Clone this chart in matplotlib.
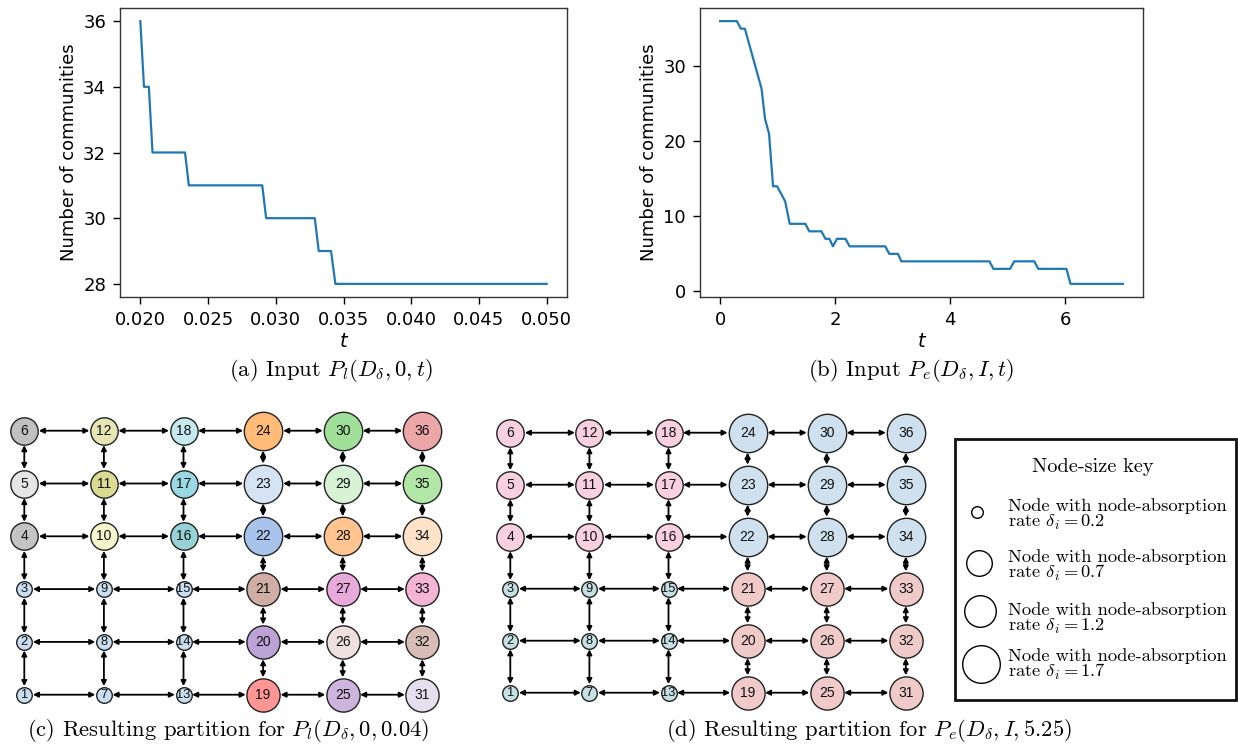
import matplotlib
matplotlib.use("Agg")
import matplotlib.pyplot as plt
from matplotlib.patches import Rectangle

# ---------------- data ----------------
t_a = [0.0200, 0.02027, 0.02063, 0.0209, 0.0233, 0.02358, 0.0290, 0.02929,
       0.03288, 0.03317, 0.03408, 0.0344, 0.0500]
n_a = [36, 34, 34, 32, 32, 31, 31, 30, 30, 29, 29, 28, 28]

t_b = [0.0, 0.29, 0.36, 0.43, 0.72, 0.78, 0.85, 0.92, 0.99, 1.13, 1.21, 1.48,
       1.55, 1.76, 1.83, 1.90, 1.96, 2.03, 2.18, 2.25, 2.87, 2.94, 3.09, 3.15,
       4.68, 4.75, 5.04, 5.11, 5.46, 5.53, 6.02, 6.09, 7.0]
n_b = [36, 36, 35, 35, 27, 23, 21, 14, 14, 12, 9, 9,
       8, 8, 7, 7, 6, 7, 7, 6, 6, 5, 5, 4,
       4, 3, 3, 4, 4, 3, 3, 1, 1]

nodes = list(range(1, 37))
# absorption rate per node (node n -> column (n-1)//6, row (n-1)%6)
delta = [0.2, 0.2, 0.2, 0.7, 0.7, 0.7,
         0.2, 0.2, 0.2, 0.7, 0.7, 0.7,
         0.2, 0.2, 0.2, 0.7, 0.7, 0.7,
         1.2, 1.2, 1.2, 1.7, 1.7, 1.7,
         1.2, 1.2, 1.2, 1.7, 1.7, 1.7,
         1.2, 1.2, 1.2, 1.7, 1.7, 1.7]

colors_c = ['#c9def0', '#c9def0', '#c9def0', '#c4c4c4', '#e5e5e5', '#c0c0c0',
            '#c9def0', '#c9def0', '#c9def0', '#f6f6cc', '#dada92', '#e5e6b2',
            '#c9def0', '#c9def0', '#c9def0', '#96d3d8', '#9ad8e3', '#c5e9ef',
            '#ff9594', '#bca3d6', '#d0aea6', '#a9c4ec', '#d6e3f3', '#ffbb78',
            '#ccb4dd', '#ede0de', '#e8aadb', '#ffc490', '#d8f2d6', '#a0e09a',
            '#e6e0ee', '#d8bdb6', '#f4b4d3', '#ffe3c8', '#b2e6a6', '#eca6a7']

community_d = [0, 0, 0, 1, 1, 1,
               0, 0, 0, 1, 1, 1,
               0, 0, 0, 1, 1, 1,
               2, 2, 2, 3, 3, 3,
               2, 2, 2, 3, 3, 3,
               2, 2, 2, 3, 3, 3]
palette_d = ['#c6e0e4', '#f9d0e0', '#f0c9c9', '#cfe1ee']

key_deltas = [0.2, 0.7, 1.2, 1.7]

# ---------------- styles ----------------
W, H = 1238, 747
DPI = 100
PT = 72.0 / DPI  # points per pixel
radius_px = {0.2: 7.8, 0.7: 13.7, 1.2: 16.6, 1.7: 19.2}
key_radius_px = {0.2: 5.8, 0.7: 12.8, 1.2: 15.8, 1.7: 18.8}

plt.rcParams['mathtext.fontset'] = 'cm'
fig = plt.figure(figsize=(W / DPI, H / DPI), dpi=DPI)


def px_axes(x0, y0, x1, y1):
    return fig.add_axes([x0 / W, 1 - y1 / H, (x1 - x0) / W, (y1 - y0) / H])


LINE = '#1f77b4'
TICKFS = 13


def style_line_axes(ax):
    ax.tick_params(labelsize=TICKFS, length=5, width=1, pad=5)
    for s in ax.spines.values():
        s.set_linewidth(1.0)
        s.set_color('#333333')
    ax.set_ylabel('Number of communities', fontsize=TICKFS)
    ax.set_xlabel('t', fontsize=TICKFS + 1, style='italic', family='DejaVu Sans',
                  labelpad=2)


ax_a = px_axes(120, 8, 567, 297)
ax_a.plot(t_a, n_a, color=LINE, lw=1.6)
ax_a.set_yticks([28, 30, 32, 34, 36])
ax_a.set_xticks([0.020, 0.025, 0.030, 0.035, 0.040, 0.045, 0.050])
style_line_axes(ax_a)

ax_b = px_axes(700, 8, 1143, 297)
ax_b.plot(t_b, n_b, color=LINE, lw=1.6)
ax_b.set_yticks([0, 10, 20, 30])
ax_b.set_xticks([0, 2, 4, 6])
style_line_axes(ax_b)


# ---------------- networks ----------------
def draw_network(box, col0, colstep, row0, rowstep, node_colors):
    x0, y0, x1, y1 = box
    ax = px_axes(x0, y0, x1, y1)
    ax.set_xlim((x0 - col0) / colstep, (x1 - col0) / colstep)
    ax.set_ylim((row0 - y1) / rowstep, (row0 - y0) / rowstep)
    ax.axis('off')
    pos = {n: ((n - 1) // 6, (n - 1) % 6) for n in nodes}
    rad = {n: radius_px[delta[n - 1]] * PT for n in nodes}
    # edges
    for n in nodes:
        c, r = pos[n]
        nbrs = []
        if r < 5:
            nbrs.append(n + 1)
        if c < 5:
            nbrs.append(n + 6)
        for m in nbrs:
            ax.annotate('', xy=pos[m], xytext=pos[n],
                        arrowprops=dict(arrowstyle='<|-|>', color='black', lw=1.3,
                                        shrinkA=rad[n] + 0.6, shrinkB=rad[m] + 0.6,
                                        mutation_scale=7.5),
                        zorder=1)
    for n in nodes:
        c, r = pos[n]
        ax.scatter([c], [r], s=(2 * rad[n]) ** 2, color=node_colors[n - 1],
                   edgecolors='#222222', linewidths=1.0, zorder=3)
        fs = 9.3 if delta[n - 1] == 0.2 else 10.0
        ax.text(c, r, str(n), ha='center', va='center', fontsize=fs,
                family='Liberation Sans', color='#111111', zorder=4)
    return ax


draw_network((0, 405, 455, 718), 24.3, 79.6, 694.7, 52.8, colors_c)
draw_network((485, 405, 940, 718), 510.3, 79.1, 692.7, 52.0,
             [palette_d[k] for k in community_d])

# ---------------- overlay: captions & key ----------------
ov = fig.add_axes([0, 0, 1, 1])
ov.set_xlim(0, W)
ov.set_ylim(H, 0)
ov.axis('off')
ov.patch.set_alpha(0)

CAP = dict(ha='center', va='center', fontsize=16.3, family='cmr10')
ov.text(331, 370, r'(a) Input $P_l(D_\delta, \mathbf{0}, t)$', **CAP)
ov.text(911, 370, r'(b) Input $P_e(D_\delta, I, t)$', **CAP)
ov.text(228, 731, r'(c) Resulting partition for $P_l(D_\delta, \mathbf{0}, 0.04)$', **CAP)
ov.text(869, 731, r'(d) Resulting partition for $P_e(D_\delta, I, 5.25)$', **CAP)

ov.add_patch(Rectangle((955, 439), 281, 261, fill=False, edgecolor='#111111', lw=2.0))
ov.text(1093, 467, 'Node-size key', ha='center', va='center', fontsize=14.6, family='cmr10')
key_y = [512, 563, 611, 664]
key_x = [977, 979, 980, 981]
text_y = [515, 566, 619, 665]
for d, yy, xx, ty in zip(key_deltas, key_y, key_x, text_y):
    rp = key_radius_px[d] * PT
    ov.scatter([xx], [yy], s=(2 * rp) ** 2, facecolors='white', edgecolors='black',
               linewidths=1.0)
    ov.text(1008, ty, 'Node with node-absorption\nrate $\\delta_i = %.1f$' % d,
            ha='left', va='center', fontsize=13.3, family='cmr10', linespacing=0.9)

fig.savefig('out.png', dpi=DPI)
